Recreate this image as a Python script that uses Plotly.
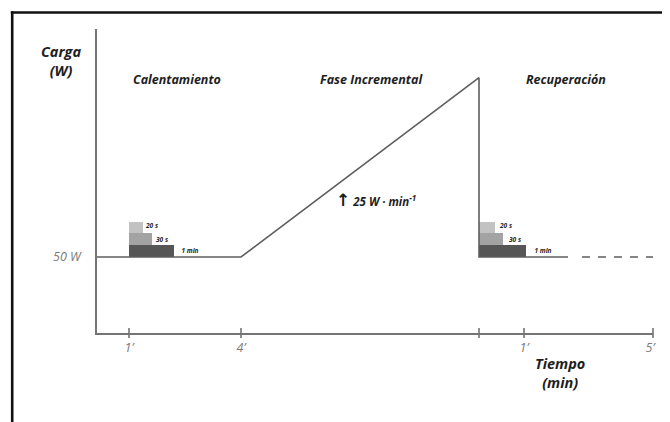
import plotly.graph_objects as go

# ---- schematic data (x: schematic time position, y: load in W) ----
profile_x = [0, 144, 382, 382, 471]
profile_y = [50, 50, 168, 50, 50]
dash_x = [485, 556]
dash_y = [50, 50]

bar_left = [32, 32, 32, 382, 382, 382]
bar_width = [45, 23, 14, 47, 24, 16]
bar_base = [50, 58, 66, 50, 58, 66]
bar_top = [58, 66, 73, 58, 66, 73]
bar_colors = ["#565656", "#a3a3a3", "#c2c2c2", "#565656", "#a3a3a3", "#c2c2c2"]

bar_label_text = ["20 s", "30 s", "1 min", "20 s", "30 s", "1 min"]
bar_label_x = [55, 65, 93, 409, 418, 446]
bar_label_y = [70, 61, 54, 70, 61, 54]

tickmark_x = [32, 144, 382, 427, 556]
xtick_vals = [32, 144, 427, 553]
xtick_text = ["1’", "4’", "1’", "5’"]
ytick_vals = [50]
ytick_text = ["50 W"]

phase_names = ["Calentamiento", "Fase Incremental", "Recuperación"]
phase_x = [80, 274, 469]
phase_y = [166.5, 166.5, 166.5]

X_MAX = 556
Y_MAX = 200

LINE = "#5e5e5e"
AXIS = "#747474"
TXT = "#1e1e1e"
GREY_TXT = "#7a7a7a"
FONT = "Open Sans"

fig = go.Figure()

# bars (stair steps)
for l, w, b, t, c in zip(bar_left, bar_width, bar_base, bar_top, bar_colors):
    fig.add_trace(go.Bar(x=[l + w / 2], y=[t - b], base=[b], width=[w],
                         marker=dict(color=c, line=dict(width=0)),
                         showlegend=False, hoverinfo="skip"))

# load profile
fig.add_trace(go.Scatter(x=profile_x, y=profile_y, mode="lines",
                         line=dict(color=LINE, width=1.6),
                         showlegend=False, hoverinfo="skip", cliponaxis=False))
fig.add_trace(go.Scatter(x=dash_x, y=dash_y, mode="lines",
                         line=dict(color=LINE, width=1.6, dash="8px,8px"),
                         showlegend=False, hoverinfo="skip", cliponaxis=False))

# tick marks crossing the x axis
fig.add_trace(go.Scatter(x=tickmark_x, y=[0] * len(tickmark_x), mode="markers",
                         marker=dict(symbol="line-ns-open", size=7, color=LINE,
                                     line=dict(color=LINE, width=1.4)),
                         showlegend=False, hoverinfo="skip", cliponaxis=False))

# bar labels
fig.add_trace(go.Scatter(x=bar_label_x, y=bar_label_y, mode="text",
                         text=bar_label_text,
                         textfont=dict(family=FONT, size=6.5, color=TXT,
                                       style="italic", weight="bold"),
                         showlegend=False, hoverinfo="skip", cliponaxis=False))

# phase titles
for name, x, y in zip(phase_names, phase_x, phase_y):
    fig.add_annotation(x=x, y=y, xref="x", yref="y", text=name, showarrow=False,
                       font=dict(family=FONT, size=12.5, color=TXT,
                                 style="italic", weight="bold"))

# rate label
fig.add_annotation(x=279, y=87.5, xref="x", yref="y",
                   text="<span style='font-size:17px;font-style:normal;font-family:DejaVu Sans'>↑</span> 25 W · min<sup>-1</sup>",
                   showarrow=False,
                   font=dict(family=FONT, size=11.5, color=TXT,
                             style="italic", weight="bold"))

# axis titles (paper coordinates so they are drawn outside the plot area)
fig.add_annotation(x=-0.0647, y=0.895, xref="paper", yref="paper",
                   xanchor="center", yanchor="middle",
                   text="Carga<br>(W)", showarrow=False, align="center",
                   font=dict(family=FONT, size=14.5, color=TXT,
                             style="italic", weight="bold"))
fig.add_annotation(x=0.833, y=-0.133, xref="paper", yref="paper",
                   xanchor="center", yanchor="middle",
                   text="Tiempo<br>(min)", showarrow=False, align="center",
                   font=dict(family=FONT, size=14.5, color=TXT,
                             style="italic", weight="bold"))

# outer frame (top and left edges)
fig.add_shape(type="line", xref="paper", yref="paper",
              x0=-0.155, x1=1.04, y0=1.0545, y1=1.0545,
              line=dict(color="#111111", width=2.6))
fig.add_shape(type="line", xref="paper", yref="paper",
              x0=-0.1525, x1=-0.1525, y0=1.058, y1=-0.3,
              line=dict(color="#111111", width=2.6))

fig.update_layout(
    width=662, height=414,
    margin=dict(l=89, r=17, t=21, b=89),
    paper_bgcolor="white", plot_bgcolor="white",
    barmode="overlay", bargap=0,
    showlegend=False, hovermode=False,
    xaxis=dict(range=[0, X_MAX], showgrid=False, zeroline=False,
               showline=True, linecolor=AXIS, linewidth=1.6,
               tickvals=xtick_vals, ticktext=xtick_text, ticks="",
               ticklabelstandoff=2,
               tickfont=dict(family=FONT, size=12.5, color=GREY_TXT, style="italic"),
               fixedrange=True),
    yaxis=dict(range=[0, Y_MAX], showgrid=False, zeroline=False,
               showline=True, linecolor=AXIS, linewidth=1.6,
               tickvals=ytick_vals, ticktext=ytick_text, ticks="",
               ticklabelstandoff=12,
               tickfont=dict(family=FONT, size=12.5, color=GREY_TXT, style="italic"),
               fixedrange=True),
)

fig.write_html("out.html", config={"displayModeBar": False})
